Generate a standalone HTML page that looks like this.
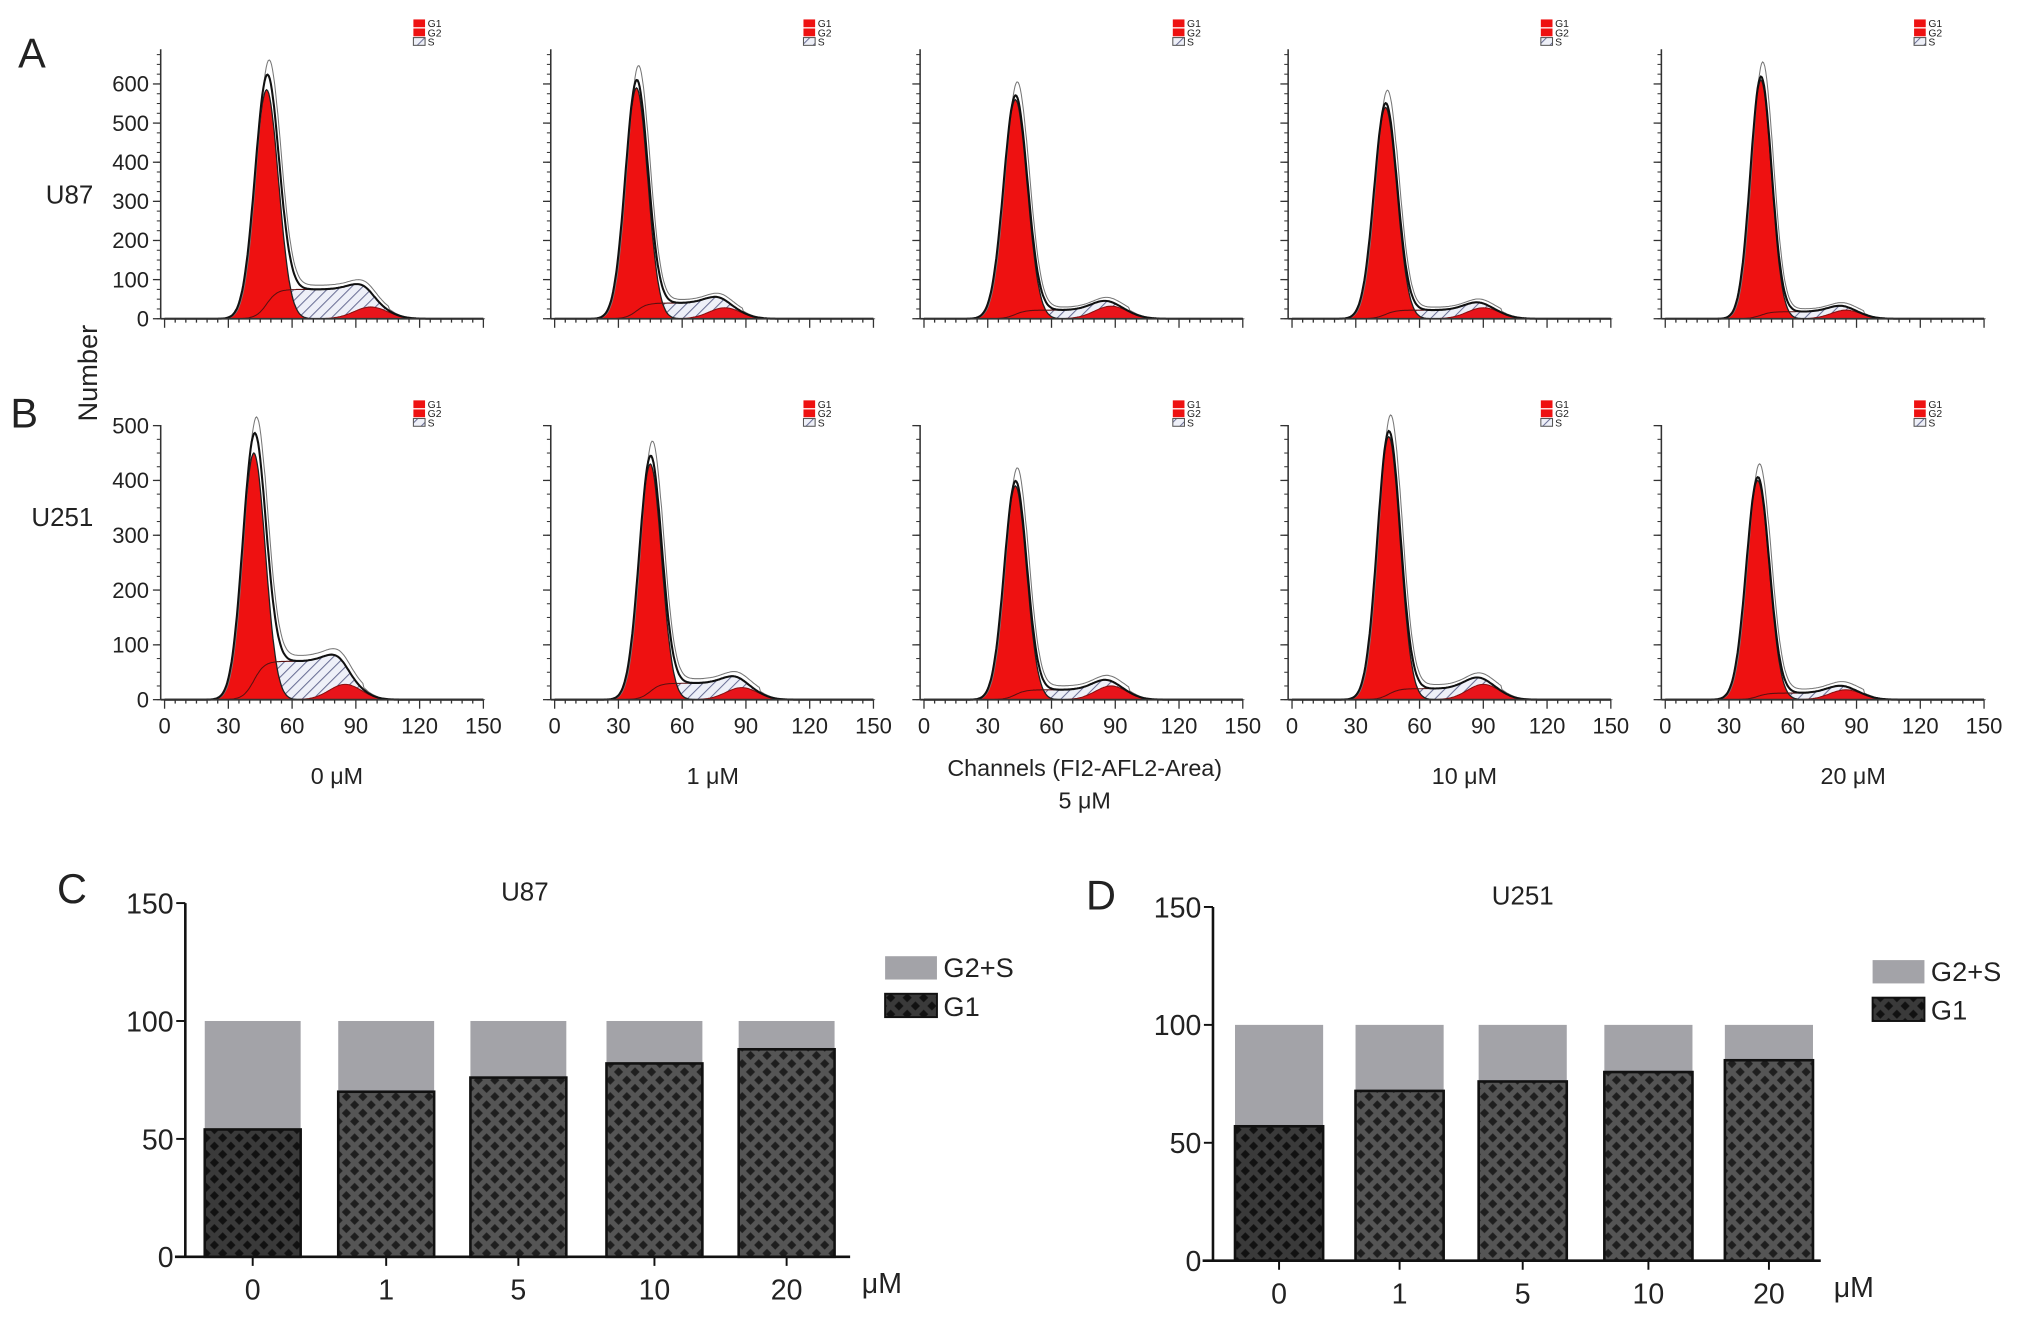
<!DOCTYPE html>
<html><head><meta charset="utf-8"><style>
html,body{margin:0;padding:0;background:#fff;}
svg{display:block;}
text{font-family:"Liberation Sans",sans-serif;fill:#222;}
.n{font-family:"Liberation Sans Narrow","Liberation Sans",sans-serif;}
</style></head><body>
<svg id="fig" width="2032" height="1319" viewBox="0 0 1568 1018" preserveAspectRatio="none" xmlns="http://www.w3.org/2000/svg">
<defs>
<pattern id="hatch" width="6" height="6" patternUnits="userSpaceOnUse" patternTransform="rotate(45)">
<rect width="6" height="6" fill="#eef0f8"/><line x1="0" y1="0" x2="0" y2="6" stroke="#6a6f95" stroke-width="1.6"/></pattern>
<pattern id="xhatch" width="9" height="9" patternUnits="userSpaceOnUse" patternTransform="rotate(45)">
<rect width="9" height="9" fill="#555"/><rect width="5" height="5" x="2" y="2" fill="#1e1e1e"/></pattern>
<pattern id="xhatch0" width="9" height="9" patternUnits="userSpaceOnUse" patternTransform="rotate(45)">
<rect width="9" height="9" fill="#3a3a3a"/><rect width="5" height="5" x="2" y="2" fill="#111"/></pattern>
</defs>
<g id="root"></g>
</svg>
<script>
// ---- Histogram data (channel units / counts) ----
const concLabels = ["0 μM","1 μM","5 μM","10 μM","20 μM"];
const xTicks = [0,30,60,90,120,150];
const yTicksA = [0,100,200,300,400,500,600];
const yTicksB = [0,100,200,300,400,500];
const a_g1Pos = [48,38.5,43,44,45];
const a_g1H = [585,590,560,540,610];
const a_g1Sd = [5.6,5.3,5.6,5.4,5.0];
const a_sH = [75,40,22,22,18];
const a_g2Pos = [97,80,88,90,85];
const a_g2H = [30,28,32,28,22];
const b_g1Pos = [42,45,43,45.5,43.5];
const b_g1H = [450,430,390,480,400];
const b_g1Sd = [5.4,5.3,5.3,5.4,5.4];
const b_sH = [70,30,18,20,12];
const b_g2Pos = [85,88,88,90,85];
const b_g2H = [28,22,25,28,18];
// ---- Bar chart data (%) ----
const barCats = ["0","1","5","10","20"];
const barTicks = [0,50,100,150];
const c_g1 = [54,70,76,82,88];
const d_g1 = [57,72,76,80,85];

const NS="http://www.w3.org/2000/svg";
const root=document.getElementById('root');
function el(tag,attrs,parent,txt){const e=document.createElementNS(NS,tag);for(const k in attrs)e.setAttribute(k,attrs[k]);if(txt!==undefined)e.textContent=txt;(parent||root).appendChild(e);return e;}

const panelX=[127,428,713,997,1285];
const panelW=246;
function drawHist(row,i,pos,h,sd,sH,g2p,g2h,y0,pxPer100,yTicks,axisTop,showYLabels,showX){
  const g=el('g',{});
  
  
  const x0=panelX[i];
  const sx=c=>x0+c/150*panelW;
  const sy=v=>y0-v*pxPer100/100;
  const g2sd=sd*1.4;
  const G1=c=>h*Math.exp(-Math.pow(c-pos,2)/(2*sd*sd));
  const G2=c=>g2h*Math.exp(-Math.pow(c-g2p,2)/(2*g2sd*g2sd));
  const sig=z=>1/(1+Math.exp(-z));
  const S=c=>sH*sig((c-pos)/2.5)*sig((g2p-c)/3);
  const cs=[];for(let c=0;c<=150;c+=0.5)cs.push(c);
  const area=(f,base)=>{let d='M'+sx(0)+','+y0;cs.forEach(c=>{d+=' L'+sx(c).toFixed(1)+','+sy(f(c)+(base?base(c):0)).toFixed(1);});d+=' L'+sx(150)+','+y0;
    if(base){for(let k=cs.length-1;k>=0;k--)d+=' L'+sx(cs[k]).toFixed(1)+','+sy(base(cs[k])).toFixed(1);}d+=' Z';return d;};
  const sp=el('path',{d:area(S,G2),fill:'url(#hatch)',stroke:'none'},g);
  
  const g2=el('path',{d:area(G2),fill:'#e8141b',stroke:'#8a1010','stroke-width':0.8},g);
  
  const g1=el('path',{d:area(G1),fill:'#ee1111',stroke:'#222','stroke-width':1},g);
  
  let dl='';cs.forEach((c,k)=>{dl+=(k?' L':'M')+sx(c).toFixed(1)+','+sy(S(c)+G2(c)).toFixed(1);});
  el('path',{d:dl,fill:'none',stroke:'#5a1010','stroke-width':0.8},g);
  const T=c=>G1(c)+G2(c)+S(c);
  let dt='',dr='';cs.forEach((c,k)=>{dt+=(k?' L':'M')+sx(c).toFixed(1)+','+sy(T(c)).toFixed(1);
    const raw=T(c)*1.06+ (c>pos+4&&c<g2p+8?6:0);dr+=(k?' L':'M')+sx(c+0.8).toFixed(1)+','+sy(raw).toFixed(1);});
  el('path',{d:dr,fill:'none',stroke:'#777','stroke-width':0.8},g);
  const tl=el('path',{d:dt,fill:'none',stroke:'#111','stroke-width':1.6},g);
  
  el('line',{x1:x0-3,y1:y0,x2:x0+panelW,y2:y0,stroke:'#333','stroke-width':1.4},g);
  el('line',{x1:x0-3,y1:axisTop,x2:x0-3,y2:y0,stroke:'#333','stroke-width':1.2},g);
  for(let c=0;c<=150;c+=5){const big=c%30===0;el('line',{x1:sx(c),y1:y0,x2:sx(c),y2:y0+(big?7:3),stroke:'#333','stroke-width':1},g);}
  for(let y=y0;y>=axisTop;y-=pxPer100/10*2.5){el('line',{x1:x0-6,y1:y,x2:x0-3,y2:y,stroke:'#333','stroke-width':0.8},g);}
  yTicks.forEach(v=>{el('line',{x1:x0-9,y1:sy(v),x2:x0-3,y2:sy(v),stroke:'#333','stroke-width':1},g);
    if(showYLabels){const t=el('text',{x:x0-12,y:sy(v)+6,'font-size':17,'text-anchor':'end'},g,String(v));}});
  if(showX){xTicks.forEach(v=>{const t=el('text',{x:sx(v),y:y0+26,'font-size':17,'text-anchor':'middle'},g,String(v));});}
  const lx=x0+192, ly=row==='a'?15:309;
  const lg=el('g',{},g);
  el('rect',{x:lx,y:ly,width:9,height:6,fill:'#e11'},lg);
  el('rect',{x:lx,y:ly+7,width:9,height:6,fill:'#e11'},lg);
  el('rect',{x:lx,y:ly+14,width:9,height:6,fill:'url(#hatch)',stroke:'#555','stroke-width':0.8},lg);
  ['G1','G2','S'].forEach((s,k)=>el('text',{x:lx+11,y:ly+6+k*7,'font-size':8,fill:'#555'},lg,s));
}
for(let i=0;i<5;i++){
  drawHist('a',i,a_g1Pos[i],a_g1H[i],a_g1Sd[i],a_sH[i],a_g2Pos[i],a_g2H[i],246,30.2,yTicksA,38,i===0,false);
  drawHist('b',i,b_g1Pos[i],b_g1H[i],b_g1Sd[i],b_sH[i],b_g2Pos[i],b_g2H[i],540,42.3,yTicksB,328,i===0,true);
}
const condX=[260,550,0,1130,1430];
concLabels.forEach((s,i)=>{if(i===2)return;const t=el('text',{x:condX[i],y:605,'font-size':18,'text-anchor':'middle'},root,s);});
let t=el('text',{x:837,y:599,'font-size':18,'text-anchor':'middle'},root,'Channels (FI2-AFL2-Area)');
t=el('text',{x:837,y:624,'font-size':18,'text-anchor':'middle'},root,'5 μM');
t=el('text',{x:0,y:0,'font-size':21,'text-anchor':'middle',transform:'translate(75,288) rotate(-90)'},root,'Number');
[['A',14,52],['B',8,330],['C',44,697],['D',838,702]].forEach(a=>{const e=el('text',{x:a[1],y:a[2],'font-size':32},root,a[0]);});
t=el('text',{x:72,y:157,'font-size':20,'text-anchor':'end'},root,'U87');
t=el('text',{x:72,y:406,'font-size':20,'text-anchor':'end'},root,'U251');

function drawBars(name,vals,axX,y0,yTop,centers,bw,xEnd,title,titleX,legX,legY,muX){
  const g=el('g',{});
  
  
  const sy=v=>y0-(y0-yTop)*v/150;
  vals.forEach((v,i)=>{
    const cx=centers[i];
    const r1=el('rect',{x:cx-bw/2,y:sy(100),width:bw,height:sy(v)-sy(100),fill:'#a3a3a8'},g);
    
    const r2=el('rect',{x:cx-bw/2,y:sy(v),width:bw,height:y0-sy(v),fill:i===0?'url(#xhatch0)':'url(#xhatch)',stroke:'#111','stroke-width':2},g);
    
    el('line',{x1:cx,y1:y0,x2:cx,y2:y0+7,stroke:'#111','stroke-width':1.5},g);
    const tx=el('text',{x:cx,y:y0+33,'font-size':22,'text-anchor':'middle',class:'n'},g,barCats[i]);
    
  });
  el('line',{x1:axX,y1:yTop,x2:axX,y2:y0,stroke:'#111','stroke-width':2},g);
  el('line',{x1:axX-8,y1:y0,x2:xEnd,y2:y0,stroke:'#111','stroke-width':2},g);
  barTicks.forEach(v=>{el('line',{x1:axX-7,y1:sy(v),x2:axX,y2:sy(v),stroke:'#111','stroke-width':1.5},g);
    const tx=el('text',{x:axX-9,y:sy(v)+8,'font-size':22,'text-anchor':'end',class:'n'},g,String(v));});
  let e=el('text',{x:titleX,y:yTop-2,'font-size':20,'text-anchor':'middle',class:'n'},g,title);
  e=el('text',{x:muX,y:y0+28,'font-size':22,class:'n'},g,'μM');
  const lg=el('g',{},g);
  el('rect',{x:legX,y:legY,width:40,height:18,fill:'#a3a3a8'},lg);
  el('rect',{x:legX,y:legY+29,width:40,height:18,fill:'url(#xhatch0)',stroke:'#111','stroke-width':1.5},lg);
  el('text',{x:legX+45,y:legY+16,'font-size':21,class:'n'},lg,'G2+S');
  el('text',{x:legX+45,y:legY+46,'font-size':21,class:'n'},lg,'G1');
}
drawBars('u87',c_g1,143,970,697,[195,298,400,505,607],74,656,'U87',405,683,738,665);
drawBars('u251',d_g1,936,973,700,[987,1080,1175,1272,1365],68,1405,'U251',1175,1445,741,1415);
</script>
</body></html>
